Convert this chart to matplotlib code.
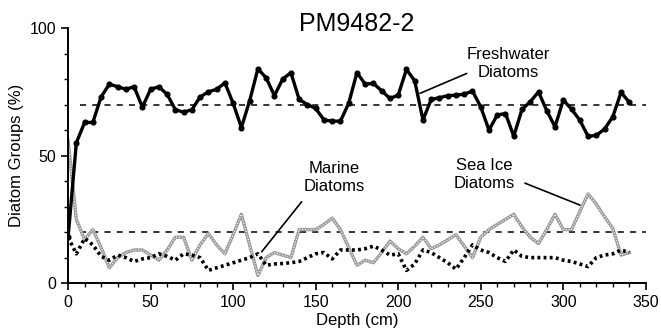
import numpy as np
import matplotlib
matplotlib.use("Agg")
import matplotlib.pyplot as plt
from matplotlib.ticker import MultipleLocator

plt.rcParams['font.family'] = ['Liberation Sans', 'DejaVu Sans']

depth = np.arange(0, 345, 5)

freshwater = [18, 55, 63, 63, 73, 78, 77, 76, 77, 69,
              76, 77, 74, 68, 67, 68, 73, 75, 76, 78.5,
              70.5, 61, 71.5, 84, 80.5, 73.5, 80, 82.5, 72, 70,
              68.5, 64, 63.5, 63.5, 70.5, 82.5, 78, 78.3, 75.4, 72.4,
              73.7, 83.8, 79.3, 64, 72, 72.7, 73.5, 73.7, 74.1, 75.3,
              69.1, 60, 65.9, 66.5, 57.6, 68.1, 71.1, 75, 67.6, 61.3,
              71.8, 68.2, 63.9, 57.6, 57.9, 60.4, 65.2, 74.8, 70.9]

sea_ice = [56, 25, 17, 21, 14, 6, 10, 12, 13, 13,
           11, 9, 13, 18, 18, 9, 15, 19.5, 15, 11.5,
           19, 27, 15, 3, 10, 12, 11, 10, 21, 21,
           21, 23, 25.5, 21, 14, 7, 9, 8, 12, 16.5,
           13.5, 11.5, 14.5, 18, 13.5, 15, 17, 19, 14.5, 10,
           18, 21, 23, 25, 27, 22, 18, 15.5, 21, 27,
           21, 21, 28, 35, 31, 26, 21.5, 11, 12]

marine = [18, 11.5, 17.5, 15, 10.5, 9, 11, 10, 8.5, 9.5,
          10, 11.5, 10.5, 9, 11.5, 11, 10, 5, 6, 7,
          8, 9, 10, 11.5, 7, 7.5, 7.7, 8, 8.5, 10,
          11.5, 12, 9.5, 13, 13, 13, 13.5, 14.5, 13, 11,
          11.5, 5, 7.5, 13, 12, 10, 8, 5.5, 10, 15,
          13, 12, 10, 8.5, 13, 10.5, 10, 10, 10, 10,
          9, 8.5, 7.5, 6.5, 10, 11, 11.5, 13, 12]

ref_levels = [20, 70]

# label text, text position, leader line (start -> tip)
labels = ['Freshwater\nDiatoms', 'Marine\nDiatoms', 'Sea Ice\nDiatoms']
label_pos = [(266.5, 86), (161, 41.5), (252, 42.4)]
leader_start = [(241.5, 82.2), (141.5, 31.9), (276.8, 39.2)]
leader_tip = [(213.2, 74.4), (117.3, 12.3), (310.1, 30.6)]

fig = plt.figure(figsize=(6.61, 3.30), dpi=100)
ax = fig.add_axes([0.103, 0.142, 0.874, 0.773])

for lvl in ref_levels:
    ax.axhline(lvl, xmin=0.02, xmax=1.0, color='black', lw=1.1, ls=(0, (4, 4)), zorder=1)

# sea ice: grey hatched look
ax.plot(depth, sea_ice, color='#9a9a9a', lw=2.4, zorder=2)
ax.plot(depth, sea_ice, color='white', lw=0.8, ls=(0, (1, 1.5)), zorder=2)
# marine: heavy dotted
ax.plot(depth, marine, color='black', lw=2.6, ls=(0, (0.8, 0.9)), zorder=3)
# freshwater
ax.plot(depth, freshwater, color='black', lw=2.4, marker='o', ms=3.4, zorder=4)

ax.set_xlim(0, 350)
ax.set_ylim(0, 100)
ax.xaxis.set_major_locator(MultipleLocator(50))
ax.xaxis.set_minor_locator(MultipleLocator(10))
ax.yaxis.set_major_locator(MultipleLocator(50))
ax.yaxis.set_minor_locator(MultipleLocator(10))
for s in ['top', 'right']:
    ax.spines[s].set_visible(False)
for s in ['left', 'bottom']:
    ax.spines[s].set_linewidth(1.4)
ax.tick_params(which='major', direction='out', length=5, width=1.2, labelsize=11.5)
ax.tick_params(which='minor', direction='out', length=3, width=1)
ax.set_xlabel('Depth (cm)', fontsize=12, labelpad=2)
ax.set_ylabel('Diatom Groups (%)', fontsize=12, labelpad=4)
ax.text(0.5, 0.99, 'PM9482-2', transform=ax.transAxes, ha='center', va='baseline', fontsize=18)

for txt, pos, p0, p1 in zip(labels, label_pos, leader_start, leader_tip):
    ax.text(pos[0], pos[1], txt, ha='center', va='center', fontsize=12, linespacing=1.25)
    ax.annotate('', xy=p1, xytext=p0,
                arrowprops=dict(arrowstyle='-', color='black', lw=1.2, shrinkA=0, shrinkB=0))

fig.savefig('out.png', dpi=100)
